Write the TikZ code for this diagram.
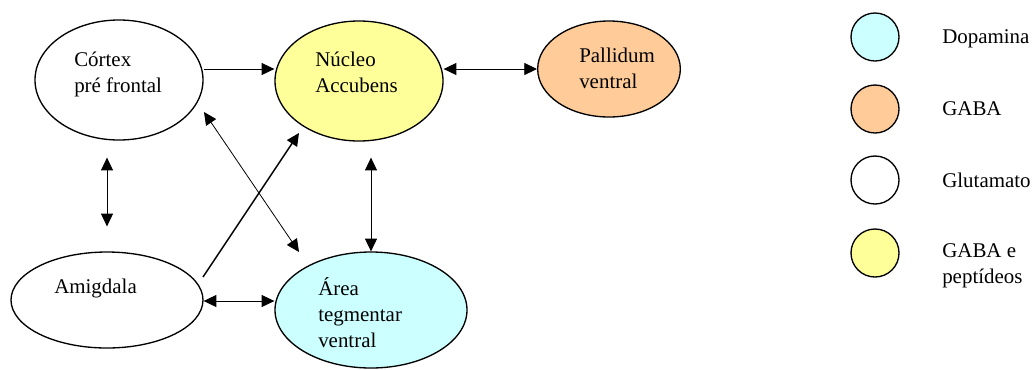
\documentclass[tikz,border=0pt]{standalone}
\usepackage{fontspec}
\setmainfont{Liberation Serif}
\usepackage{tikz}
\usetikzlibrary{arrows.meta,shapes,calc}
\definecolor{lightyellow}{HTML}{FFFF99}
\definecolor{lightcyan}{HTML}{CCFFFF}
\definecolor{lightorange}{HTML}{FFCC99}

\begin{document}
\begin{tikzpicture}[x=0.75pt, y=-0.75pt,
    region/.style={draw, ellipse, line width=1pt, inner sep=0pt},
    legcircle/.style={draw, circle, line width=1pt, inner sep=0pt, minimum size=36pt},
    lbl/.style={anchor=base west, inner sep=0pt, align=left,
                font=\fontsize{15.7}{19.2}\selectfont},
    link/.style={line width=0.6pt, -{Triangle[length=9.5pt,width=9pt]}},
    dlink/.style={line width=0.6pt, {Triangle[length=9.5pt,width=9pt]}-{Triangle[length=9.5pt,width=9pt]}}]
      \useasboundingbox (0,0) rectangle (1034,369);

      \node[region, fill=white, minimum width=126pt, minimum height=90pt] at (119,80) (cortex) { };
      \node[region, fill=lightyellow, minimum width=126pt, minimum height=90pt] at (359,81) (nucleo) { };
      \node[region, fill=lightorange, minimum width=107pt, minimum height=72pt] at (609,69) (pallidum) { };
      \node[region, fill=white, minimum width=144pt, minimum height=72pt] at (107,300) (amigdala) { };
      \node[region, fill=lightcyan, minimum width=144pt, minimum height=87pt] at (371,310) (area) { };

      % multi-line labels sit on the baseline of their last line
      \node[lbl] at (74,92) (cortex_txt) {Córtex\\pré frontal};
      \node[lbl] at (315,92) (nucleo_txt) {Núcleo\\Accubens};
      \node[lbl] at (579,88) (pallidum_txt) {Pallidum\\ventral};
      \node[lbl] at (54,293) (amigdala_txt) {Amigdala};
      \node[lbl] at (318,347) (area_txt) {Área\\tegmentar\\ventral};

      \draw[link] ($(cortex.east)+(0,-11)$) -- ($(nucleo.west)+(0,-12)$);
      \draw[dlink] ($(nucleo.east)+(0,-12)$) -- (pallidum.west);
      \draw[dlink] ($(cortex.south)+(-12,17)$) -- ($(amigdala.north)+(0,-25)$);
      \draw[dlink] ($(nucleo.south)+(12,16)$) -- (area.north);
      \draw[dlink] ($(cortex.center)+(85,32)$) -- ($(area.center)+(-72,-58)$);
      \draw[link, line width=1.1pt] ($(amigdala.center)+(96,-23)$) -- ($(nucleo.center)+(-60,52)$);
      \draw[dlink] ($(amigdala.east)+(0,1)$) -- ($(area.west)+(0,-9)$);

      \node[legcircle, fill=lightcyan] at (875,37) (leg_dopa) { };
      \node[legcircle, fill=lightorange] at (875,109) (leg_gaba) { };
      \node[legcircle, fill=white] at (875,180) (leg_glut) { };
      \node[legcircle, fill=lightyellow] at (875,253) (leg_pept) { };

      \node[lbl] at (942,43) (dopa_txt) {Dopamina};
      \node[lbl] at (942,115) (gaba_txt) {GABA};
      \node[lbl] at (942,187) (glut_txt) {Glutamato};
      \node[lbl] at (942,283) (pept_txt) {GABA e\\peptídeos};
\end{tikzpicture}
\end{document}
